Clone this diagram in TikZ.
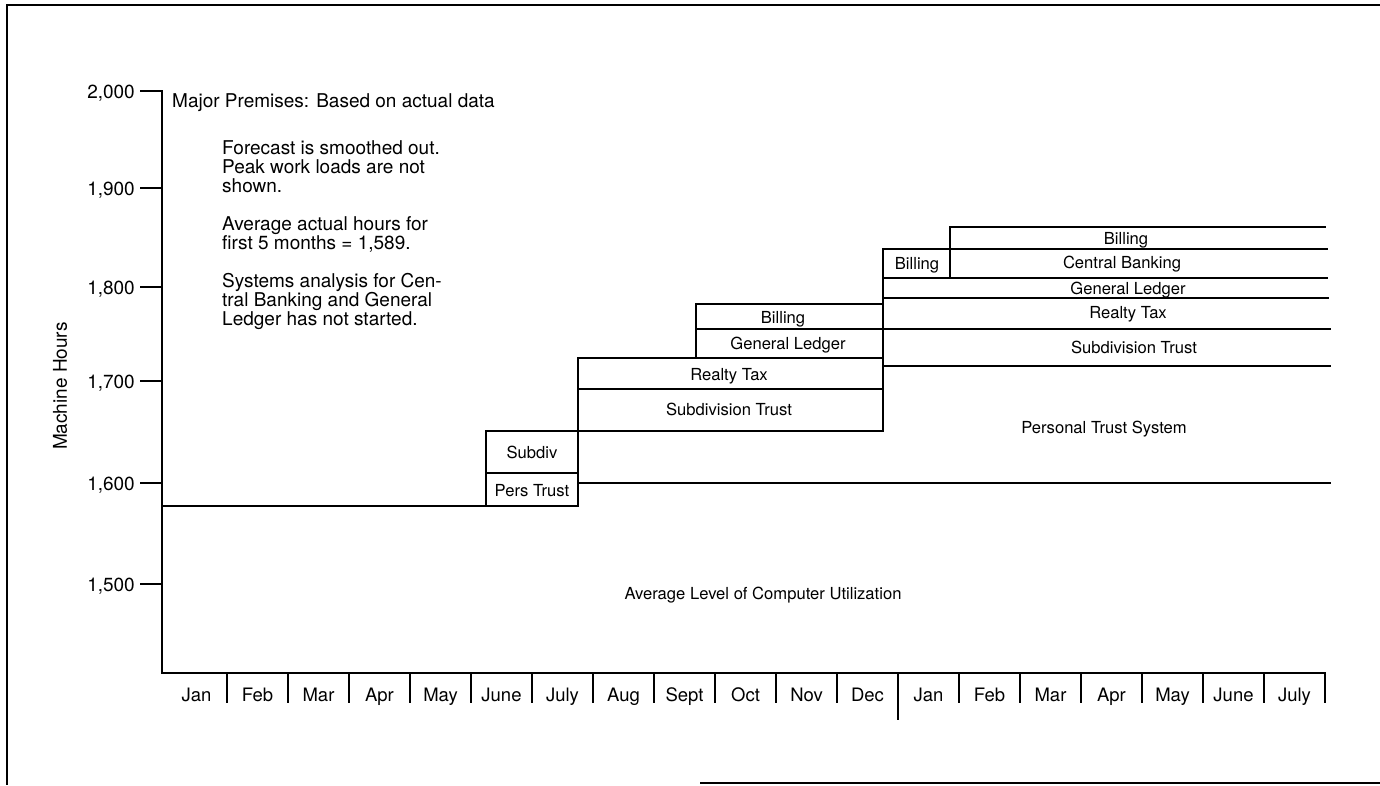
\documentclass[tikz,border=0pt]{standalone}
\usepackage{fontspec}
\setmainfont{TeX Gyre Heros}
\begin{document}
\begin{tikzpicture}[x=1pt,y=-1pt,
  ln/.style={line width=1.8pt, line cap=rect},
  frame/.style={line width=1.5pt},
  txt/.style={font=\fontsize{19}{19}\selectfont, inner sep=0pt, align=left},
  boxlbl/.style={font=\fontsize{16.6}{18}\selectfont, inner sep=0pt, anchor=base},
  mon/.style={font=\fontsize{18.5}{19}\selectfont, inner sep=0pt, anchor=base},
  ticklbl/.style={font=\fontsize{19}{19}\selectfont, inner sep=0pt, anchor=base east}]
\useasboundingbox (0,0) rectangle (1380,785);
\fill[white] (0,0) rectangle (1380,785);
% frame
\draw[frame] (1380,5) -- (7,5) -- (7,785);
\draw[frame] (700,783) -- (1380,783);
% axes
\draw[ln] (141,91) -- (162,91) -- (162,673) -- (1325,673) -- (1325,702);
\foreach \yy/\lab [count=\k] in {91/{2,000},188/{1,900},287/{1,800},381/{1,700},483/{1,600},584/{1,500}} {
  \draw[ln] (141,\yy) -- (162,\yy);
  \node[ticklbl] (t\k) at (135,\yy+7) {\lab};
}
\node[font=\fontsize{19}{19}\selectfont, inner sep=0pt, rotate=90] (ylab) at (60,386) {Machine Hours};
% month dividers and labels
\foreach \i in {1,...,18} {
  \pgfmathsetmacro\bx{166+61*\i}
  \ifnum\i=12
    \draw[ln] (\bx,673) -- (\bx,719);
  \else
    \draw[ln] (\bx,673) -- (\bx,702);
  \fi
}
\foreach \m [count=\i] in {Jan,Feb,Mar,Apr,May,June,July,Aug,Sept,Oct,Nov,Dec,Jan,Feb,Mar,Apr,May,June,July} {
  \pgfmathsetmacro\cx{166+61*\i-30.5}
  \node[mon] (m\i) at (\cx,701) {\m};
}
% notes
\node[txt, anchor=base west] (prem) at (172,107) {Major Premises: Based on actual data};
\node[txt, anchor=north west] (notes) at (222,140) {Forecast is smoothed out.\\Peak work loads are not\\shown.\\[19pt]Average actual hours for\\first 5 months = 1,589.\\[19pt]Systems analysis for Cen-\\tral Banking and General\\Ledger has not started.};
% stepped blocks
\draw[ln] (162,506) -- (578,506);
\draw[ln] (486,506) -- (486,431) -- (883,431);
\draw[ln] (486,473) -- (578,473);
\draw[ln] (578,506) -- (578,358) -- (883,358);
\draw[ln] (578,483) -- (1330,483);
\draw[ln] (578,389) -- (883,389);
\draw[ln] (696,358) -- (696,304) -- (883,304);
\draw[ln] (696,329) -- (1330,329);
\draw[ln] (883,431) -- (883,249) -- (1327,249);
\draw[ln] (883,366) -- (1330,366);
\draw[ln] (883,298) -- (1328,298);
\draw[ln] (883,278) -- (1327,278);
\draw[ln] (950,278) -- (950,227) -- (1325,227);
% block labels
\node[boxlbl] (subdiv) at (532,458) {Subdiv};
\node[boxlbl] (pers) at (532,496) {Pers Trust};
\node[boxlbl] (rt1) at (729,380) {Realty Tax};
\node[boxlbl] (st1) at (729,415) {Subdivision Trust};
\node[boxlbl] (bil1) at (783,323) {Billing};
\node[boxlbl] (gl1) at (788,349) {General Ledger};
\node[boxlbl] (bil2) at (917,269) {Billing};
\node[boxlbl] (bil3) at (1126,244) {Billing};
\node[boxlbl] (cb) at (1122,268) {Central Banking};
\node[boxlbl] (gl2) at (1128,294) {General Ledger};
\node[boxlbl] (rt2) at (1128,318) {Realty Tax};
\node[boxlbl] (st2) at (1134,353) {Subdivision Trust};
\node[boxlbl] (pts) at (1104,433) {Personal Trust System};
\node[boxlbl] (avg) at (763,599) {Average Level of Computer Utilization};
\end{tikzpicture}
\end{document}
